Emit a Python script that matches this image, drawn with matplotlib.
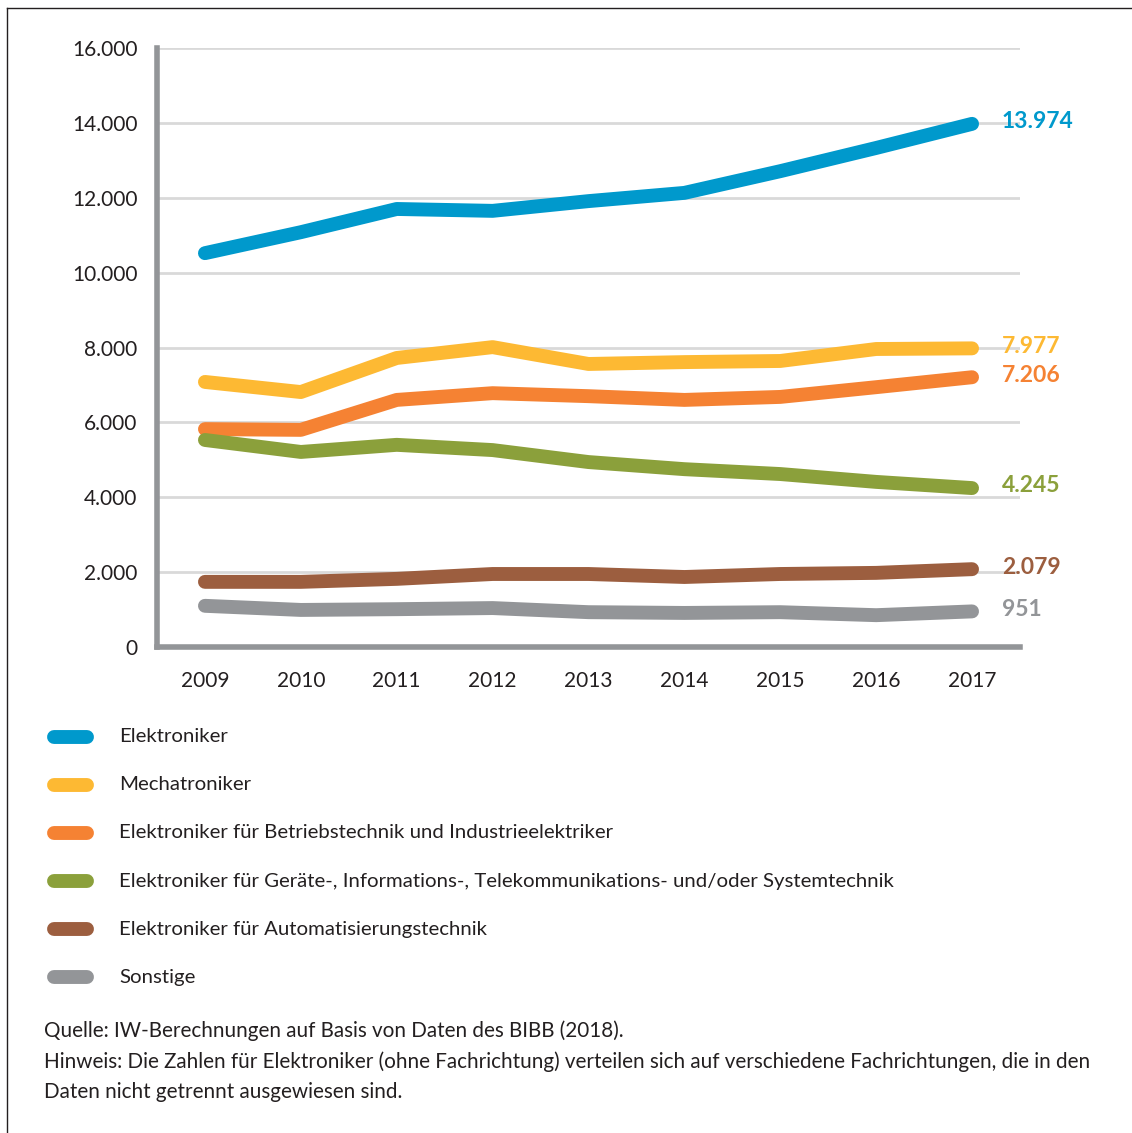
import numpy as np
import matplotlib.pyplot as plt
import matplotlib as mpl
from matplotlib.lines import Line2D

plt.rcParams["font.family"] = ["Lato", "DejaVu Sans"]

years = [2009, 2010, 2011, 2012, 2013, 2014, 2015, 2016, 2017]

elektroniker = [10520, 11080, 11700, 11650, 11910, 12130, 12710, 13330, 13974]
mechatroniker = [7080, 6810, 7720, 8010, 7560, 7610, 7640, 7960, 7977]
betriebstechnik = [5820, 5800, 6600, 6780, 6700, 6600, 6680, 6940, 7206]
geraete = [5530, 5210, 5400, 5260, 4940, 4750, 4620, 4410, 4245]
automatisierung = [1740, 1740, 1820, 1950, 1950, 1870, 1950, 1980, 2079]
sonstige = [1100, 990, 1010, 1040, 930, 910, 930, 850, 951]

series = [elektroniker, mechatroniker, betriebstechnik, geraete, automatisierung, sonstige]
names = [
    "Elektroniker",
    "Mechatroniker",
    "Elektroniker für Betriebstechnik und Industrieelektriker",
    "Elektroniker für Geräte-, Informations-, Telekommunikations- und/oder Systemtechnik",
    "Elektroniker für Automatisierungstechnik",
    "Sonstige",
]
end_labels = ["13.974", "7.977", "7.206", "4.245", "2.079", "951"]
colors = ["#0099CC", "#FDB933", "#F58233", "#8BA03B", "#9C5E3F", "#939598"]

yticks = [0, 2000, 4000, 6000, 8000, 10000, 12000, 14000, 16000]
ytick_labels = ["0", "2.000", "4.000", "6.000", "8.000", "10.000", "12.000", "14.000", "16.000"]

fig = plt.figure(figsize=(11.32, 11.33), dpi=100)
ax = fig.add_axes([157 / 1132, 1 - 647 / 1133, (1020 - 157) / 1132, (647 - 48) / 1133])

for vals, c in zip(series, colors):
    ax.plot(years, vals, color=c, lw=10, solid_capstyle="round", solid_joinstyle="round",
            zorder=3, clip_on=False)

for vals, lab, c in zip(series, end_labels, colors):
    ax.annotate(lab, (years[-1], vals[-1]), xytext=(21.5, 1.5), textcoords="offset points",
                color=c, fontsize=16.5, fontweight="bold", va="center", ha="left",
                annotation_clip=False)

ax.set_xlim(2008.5, 2017.5)
ax.set_ylim(0, 16000)
ax.set_xticks(years)
ax.set_xticklabels([str(y) for y in years])
ax.set_yticks(yticks)
ax.set_yticklabels(ytick_labels)
ax.tick_params(axis="both", length=0, labelsize=15, colors="#231f20")
ax.tick_params(axis="x", pad=17)
ax.tick_params(axis="y", pad=14)
ax.grid(axis="y", color="#d9d9d9", lw=2)
ax.set_axisbelow(True)
for s in ["top", "right"]:
    ax.spines[s].set_visible(False)
for s in ["left", "bottom"]:
    ax.spines[s].set_color("#939598")
    ax.spines[s].set_linewidth(4)

# legend drawn by hand in figure pixels
for i, (name, c) in enumerate(zip(names, colors)):
    ypix = 737 + 48 * i
    fig.add_artist(Line2D([54 / 1132, 87 / 1132], [1 - ypix / 1133] * 2, color=c, lw=10,
                          solid_capstyle="round", transform=fig.transFigure))
    fig.text(119 / 1132, 1 - ypix / 1133, name, fontsize=14.7, va="center", ha="left",
             color="#231f20")

note = ("Quelle: IW-Berechnungen auf Basis von Daten des BIBB (2018).\n"
        "Hinweis: Die Zahlen für Elektroniker (ohne Fachrichtung) verteilen sich auf verschiedene Fachrichtungen, die in den\n"
        "Daten nicht getrennt ausgewiesen sind.")
fig.text(44 / 1132, 1 - 1020 / 1133, note, fontsize=14.9, va="top", ha="left",
         color="#231f20", linespacing=1.65)

# frame lines at left and top
fig.add_artist(Line2D([7 / 1132, 7 / 1132], [0, 1 - 8 / 1133], color="#231f20", lw=1,
                      transform=fig.transFigure))
fig.add_artist(Line2D([7 / 1132, 1], [1 - 8 / 1133, 1 - 8 / 1133], color="#231f20", lw=1,
                      transform=fig.transFigure))

fig.savefig("out.png", dpi=100)
